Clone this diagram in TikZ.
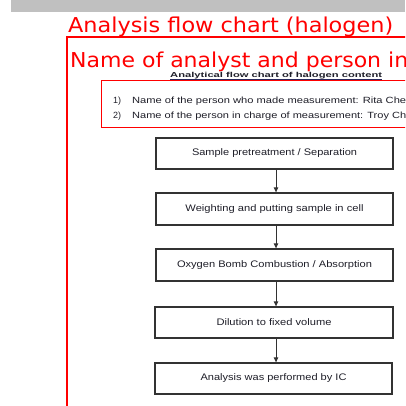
\documentclass[tikz,border=0pt]{standalone}
\usepackage{fontspec}
\setmainfont{Liberation Sans}
\newfontfamily\titlefont{DejaVu Sans}
\usepackage{graphicx}
\definecolor{barGray}{RGB}{192,192,192}
\definecolor{boxGray}{RGB}{50,50,50}
\definecolor{txtGray}{RGB}{30,30,40}
\tikzset{
  redtitle/.style={text=red, inner sep=0pt, anchor=base west, font=\titlefont\fontsize{20.5}{24}\selectfont},
  flowbox/.style={draw=boxGray, line width=1.3pt, minimum height=31pt, inner sep=0pt, text=txtGray, font=\fontsize{9.5}{11}\selectfont},
  flowarrow/.style={draw=boxGray, line width=0.9pt, -{Triangle[length=5pt,width=4.5pt]}},
  smalltxt/.style={inner sep=0pt, anchor=base west, text=txtGray, font=\fontsize{9}{10}\selectfont},
}
\usetikzlibrary{arrows.meta}
\begin{document}
\begin{tikzpicture}[x=1pt,y=-1pt]
\path[use as bounding box, clip] (0,0) rectangle (405,406);
\fill[barGray] (11,0) rectangle (405,12);
% titles
\node[redtitle] (title) at (68,33) {\resizebox{325pt}{\height}{Analysis flow chart (halogen)}};
\draw[red, line width=1.3pt] (67,407) -- (67,37) -- (406,37);
\node[redtitle] (name) at (70,68) {\resizebox{338pt}{\height}{Name of analyst and person in}};
% sub title
\node[inner sep=0pt, anchor=base west, text=txtGray, font=\bfseries\fontsize{7.2}{9}\selectfont] (sub) at (170,78) {\resizebox{212pt}{\height}{Analytical flow chart of halogen content}};
\draw[boxGray!80!blue, line width=0.6pt] (sub.base west) ++(0,1.3) coordinate (ul1) -- (sub.base east |- ul1);
% red person box
\draw[red, line width=1pt] (406,81) -- (101,81) -- (101,128) -- (406,128);
\node[smalltxt] (n1) at (113,104) {1)};
\node[smalltxt] (p1) at (132,104) {\resizebox{274pt}{\height}{Name of the person who made measurement: Rita Che}};
\node[smalltxt] (n2) at (113,118.5) {2)};
\node[smalltxt] (p2) at (132,118.5) {\resizebox{274pt}{\height}{Name of the person in charge of measurement: Troy Ch}};
% flow boxes
\node[flowbox, minimum width=237pt] (b1) at (274.5,153.5) {\resizebox{165pt}{\height}{Sample pretreatment / Separation}};
\node[flowbox, minimum width=237pt, minimum height=32pt] (b2) at (274.5,209) {\resizebox{178pt}{\height}{Weighting and putting sample in cell}};
\node[flowbox, minimum width=237pt, minimum height=32pt] (b3) at (274.5,265) {\resizebox{195pt}{\height}{Oxygen Bomb Combustion / Absorption}};
\node[flowbox, minimum width=238pt] (b4) at (274,322.5) {\resizebox{115pt}{\height}{Dilution to fixed volume}};
\node[flowbox, minimum width=237pt] (b5) at (273.5,378.5) {\resizebox{146pt}{\height}{Analysis was performed by IC}};
\coordinate (ax) at (276,0);
\draw[flowarrow] (b1.south -| ax) -- (b2.north -| ax);
\draw[flowarrow] (b2.south -| ax) -- (b3.north -| ax);
\draw[flowarrow] (b3.south -| ax) -- (b4.north -| ax);
\draw[flowarrow] (b4.south -| ax) -- (b5.north -| ax);
\end{tikzpicture}
\end{document}
